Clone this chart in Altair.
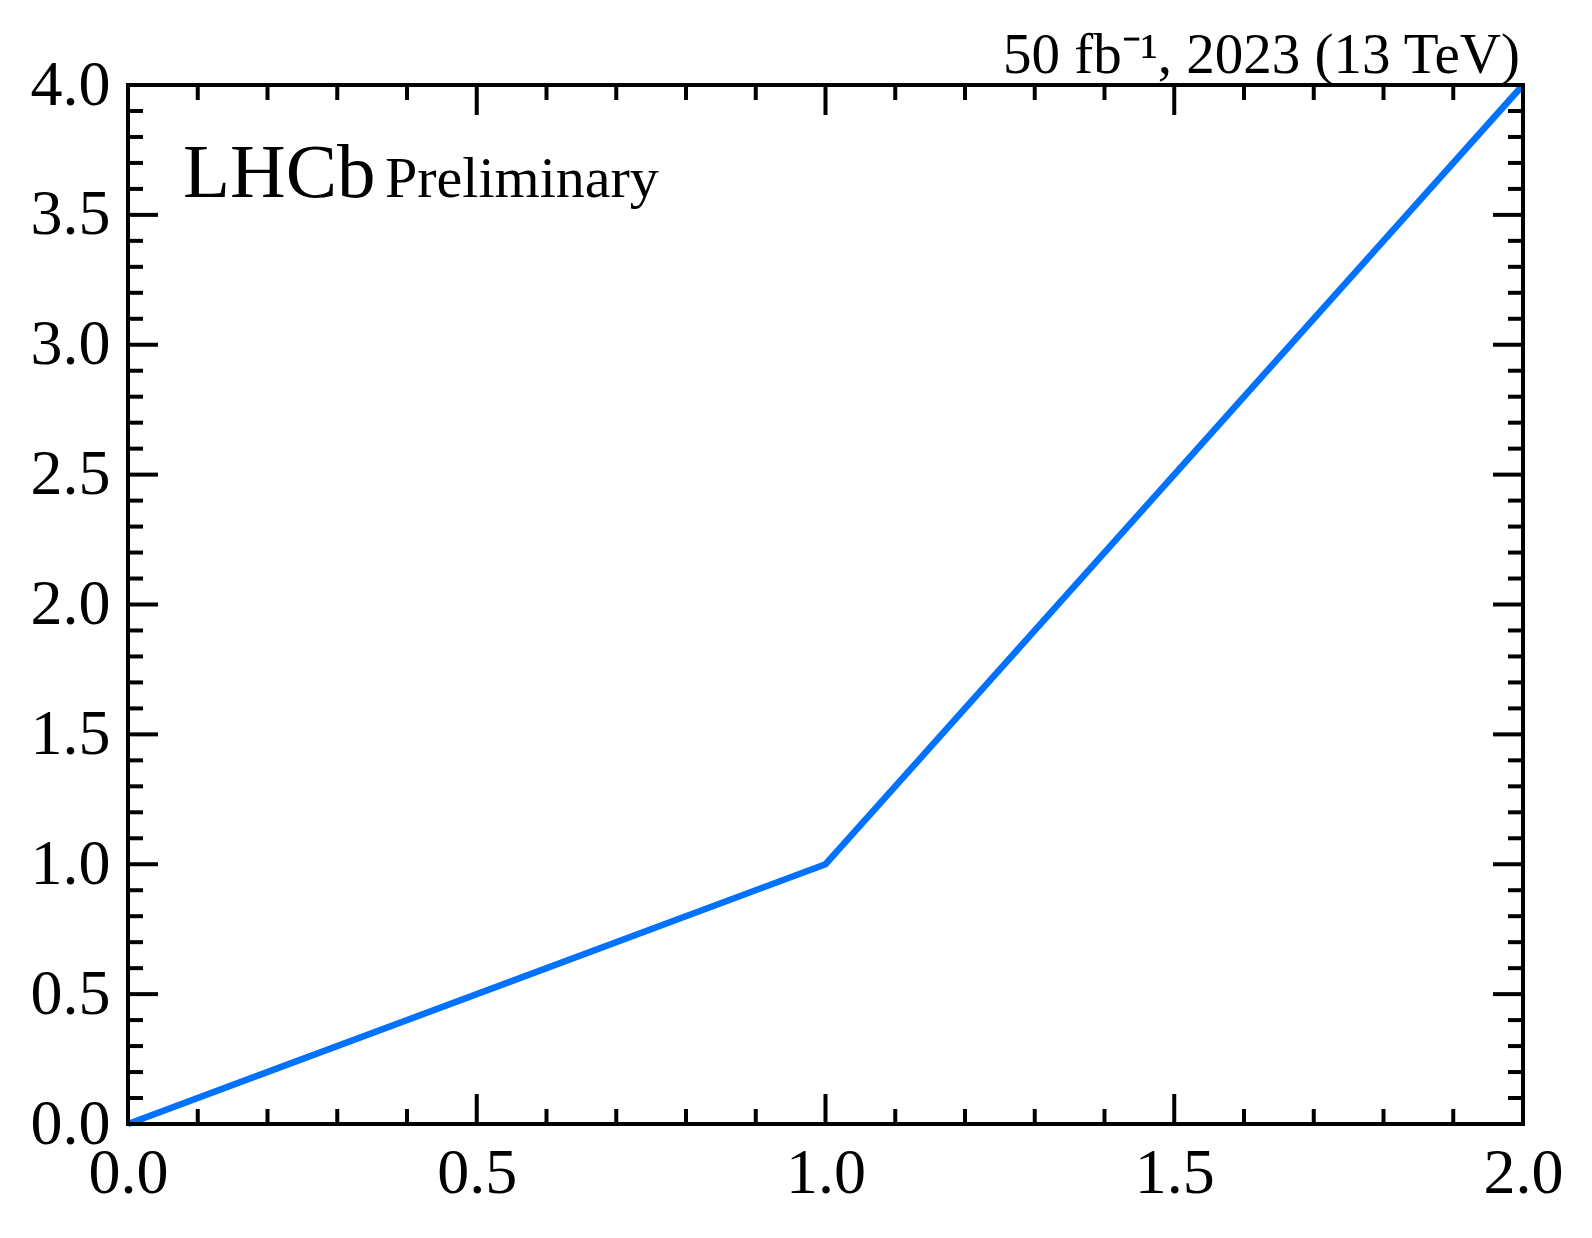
import altair as alt
import pandas as pd

# data
x_vals = [0.0, 1.0, 2.0]
y_vals = [0.0, 1.0, 4.0]

x_major = [0.0, 0.5, 1.0, 1.5, 2.0]
x_minor = [0.1, 0.2, 0.3, 0.4, 0.6, 0.7, 0.8, 0.9, 1.1, 1.2, 1.3, 1.4,
           1.6, 1.7, 1.8, 1.9]
y_major = [0.0, 0.5, 1.0, 1.5, 2.0, 2.5, 3.0, 3.5, 4.0]
y_minor = [0.1, 0.2, 0.3, 0.4, 0.6, 0.7, 0.8, 0.9, 1.1, 1.2, 1.3, 1.4,
           1.6, 1.7, 1.8, 1.9, 2.1, 2.2, 2.3, 2.4, 2.6, 2.7, 2.8, 2.9,
           3.1, 3.2, 3.3, 3.4, 3.6, 3.7, 3.8, 3.9]

lumi_text = "50 fb\u207b\u00b9, 2023 (13 TeV)"
exp_text = "LHCb"
status_text = "Preliminary"

W, H = 1395, 1039
FONT = "Liberation Serif"
MAJ, MIN = 30, 15
LINE_COLOR = "#0072ff"

xs = alt.Scale(domain=[0, 2], nice=False, zero=False)
ys = alt.Scale(domain=[0, 4], nice=False, zero=False)

x_axis = alt.Axis(values=x_major, format=".1f", domain=False, ticks=False,
                  grid=False, labelFont=FONT, labelFontSize=64,
                  labelColor="black", labelPadding=17, labelFlush=False,
                  labelOverlap=False, labelBound=False)
y_axis = alt.Axis(values=y_major, format=".1f", domain=False, ticks=False,
                  grid=False, labelFont=FONT, labelFontSize=64,
                  labelColor="black", labelPadding=18, labelFlush=False,
                  labelOverlap=False, labelBound=False)

df = pd.DataFrame({"x": x_vals, "y": y_vals})

line = alt.Chart(df).mark_line(color=LINE_COLOR, strokeWidth=6.5, clip=False).encode(
    x=alt.X("x:Q", scale=xs, title=None, axis=x_axis),
    y=alt.Y("y:Q", scale=ys, title=None, axis=y_axis),
)

def xticks(vals, length):
    d = pd.DataFrame({"x": vals})
    base = alt.Chart(d).mark_rule(color="black", strokeWidth=4)
    bottom = base.encode(x=alt.X("x:Q", scale=xs, title=None, axis=x_axis),
                         y=alt.value(H), y2=alt.value(H - length))
    top = base.encode(x=alt.X("x:Q", scale=xs, title=None, axis=x_axis),
                      y=alt.value(0), y2=alt.value(length))
    return [bottom, top]

def yticks(vals, length):
    d = pd.DataFrame({"y": vals})
    base = alt.Chart(d).mark_rule(color="black", strokeWidth=4)
    left = base.encode(y=alt.Y("y:Q", scale=ys, title=None, axis=y_axis),
                       x=alt.value(0), x2=alt.value(length))
    right = base.encode(y=alt.Y("y:Q", scale=ys, title=None, axis=y_axis),
                        x=alt.value(W), x2=alt.value(W - length))
    return [left, right]

ticks = xticks(x_major, MAJ) + xticks(x_minor, MIN) + yticks(y_major, MAJ) + yticks(y_minor, MIN)

lumi = alt.Chart(pd.DataFrame({"t": [lumi_text]})).mark_text(
    font=FONT, fontSize=57, align="right", baseline="alphabetic", color="black"
).encode(text="t:N", x=alt.value(W - 3), y=alt.value(-12))

exp = alt.Chart(pd.DataFrame({"t": [exp_text]})).mark_text(
    font=FONT, fontSize=77, align="left", baseline="alphabetic", color="black"
).encode(text="t:N", x=alt.value(55), y=alt.value(112))

status = alt.Chart(pd.DataFrame({"t": [status_text]})).mark_text(
    font=FONT, fontSize=58, align="left", baseline="alphabetic", color="black"
).encode(text="t:N", x=alt.value(257), y=alt.value(112))

chart = alt.layer(line, *ticks, lumi, exp, status).properties(
    width=W, height=H,
    autosize=alt.AutoSizeParams(type="none"),
    padding={"left": 120, "top": 77, "right": 55, "bottom": 100},
    background="white",
).configure_view(stroke="black", strokeWidth=4)

chart.save("out.html", embed_options={"renderer": "svg", "actions": False})
